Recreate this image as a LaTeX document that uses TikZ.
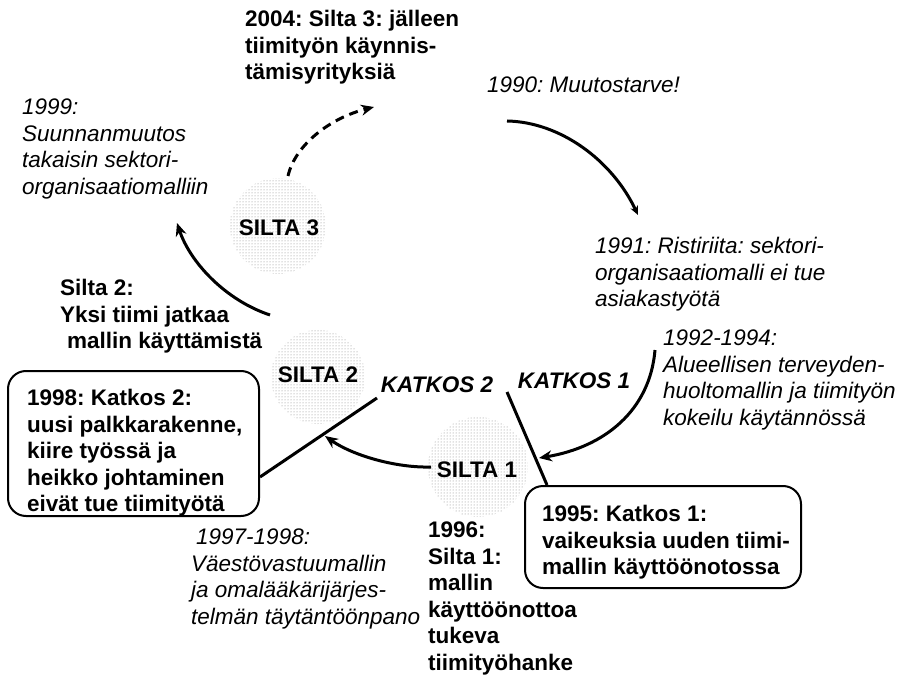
\documentclass[tikz,border=0pt]{standalone}
\usepackage{fontspec}
\setmainfont{Liberation Sans}
\usetikzlibrary{patterns,arrows.meta}
\begin{document}
\frenchspacing
\begin{tikzpicture}[x=1pt,y=-1pt,
 bt/.style={font=\bfseries\fontsize{22.5}{26.5}\selectfont, align=left, inner sep=0pt, anchor=north west},
 itx/.style={font=\itshape\fontsize{22.5}{26.5}\selectfont, align=left, inner sep=0pt, anchor=north west},
 bridge/.style={circle, pattern=dots, pattern color=black!50, inner sep=0pt},
 blab/.style={font=\bfseries\fontsize{22.5}{26.5}\selectfont, inner sep=1pt},
 klab/.style={font=\bfseries\itshape\fontsize{22.5}{26.5}\selectfont, inner sep=1pt},
 conn/.style={line width=3pt},
 arr/.style={conn, -{Stealth[length=13pt,width=11pt]}},
 smallarr/.style={conn, -{Stealth[length=9pt,width=8pt]}},
 dasharr/.style={conn, dash pattern=on 9pt off 6pt, -{Stealth[length=13pt,width=11pt]}},
 box/.style={draw, line width=2pt, rounded corners=18pt, inner sep=0pt, anchor=north west}]
\useasboundingbox (0,0) rectangle (912,676);
% bridges
\node[bridge, minimum size=96pt] (c3) at (278,226) {};
\node[bridge, minimum size=94pt] (c2) at (318,377) {};
\node[bridge, minimum size=100pt] (c1) at (478,467) {};
\node[blab] (s3) at (279,228) {SILTA 3};
\node[blab] (s2) at (318,375) {SILTA 2};
\node[blab] (s1) at (477,470) {SILTA 1};
% boxes
\node[box, minimum width=251pt, minimum height=145pt] (b98) at (7,370) {};
\node[box, minimum width=276pt, minimum height=102pt] (b95) at (524,485) {};
% texts
\node[bt] (t2004) at (245,10) {2004: Silta 3: jälleen\\tiimityön käynnis-\\tämisyrityksiä};
\node[itx] (t1990) at (487,77) {1990: Muutostarve!};
\node[itx] (t1999) at (22,99) {1999:\\Suunnanmuutos\\takaisin sektori-\\organisaatiomalliin};
\node[bt] (tsilta2) at (60,279) {Silta 2:\\Yksi tiimi jatkaa\\\hspace*{7pt}mallin käyttämistä};
\node[itx] (t1991) at (595,237) {1991: Ristiriita: sektori-\\organisaatiomalli ei tue\\asiakastyötä};
\node[itx] (t1992) at (663,330) {1992-1994:\\Alueellisen terveyden-\\huoltomallin ja tiimityön\\kokeilu käytännössä};
\node[klab] (k2) at (437,385) {KATKOS 2};
\node[klab] (k1) at (574,381) {KATKOS 1};
\node[bt] (t98) at (27,389) {1998: Katkos 2:\\uusi palkkarakenne,\\kiire työssä ja\\heikko johtaminen\\eivät tue tiimityötä};
\node[bt] (t95) at (542,505) {1995: Katkos 1:\\vaikeuksia uuden tiimi-\\mallin käyttöönotossa};
\node[bt] (t1996) at (428,522) {1996:\\Silta 1:\\mallin\\käyttöönottoa\\tukeva\\tiimityöhanke};
\node[itx] (t1997) at (191,529) {\hspace*{5pt}1997-1998:\\Väestövastuumallin\\ja omalääkärijärjes-\\telmän täytäntöönpano};
% connector ends
\coordinate (a90s) at (507,121);
\coordinate (a90e) at (638,215);
\coordinate (a92s) at (655,350);
\coordinate (a92e) at (539,458);
\coordinate (as1s) at (431,467);
\coordinate (as1e) at (325,436);
\coordinate (a2s) at (270,315);
\coordinate (a2e) at (177,223);
\coordinate (a3s) at (288,176);
\coordinate (a3e) at (374,107);
\coordinate (k2s) at (377,398);
\coordinate (k2e) at (b98.east |- 0,477);
\coordinate (k1s) at (507,392);
\coordinate (k1e) at (b95.north west -| 547,0);
% connectors
\draw[smallarr] (a90s) .. controls (560,122) and (612,160) .. (a90e);
\draw[arr] (a92s) .. controls (650,410) and (605,447) .. (a92e);
\draw[arr] (as1s) .. controls (395,468) and (352,455) .. (as1e);
\draw[arr] (a2s) .. controls (225,300) and (190,262) .. (a2e);
\draw[dasharr] (a3s) .. controls (295,145) and (330,118) .. (a3e);
\draw[conn] (k2s) -- (k2e);
\draw[conn] (k1s) -- (k1e);
\end{tikzpicture}
\end{document}
